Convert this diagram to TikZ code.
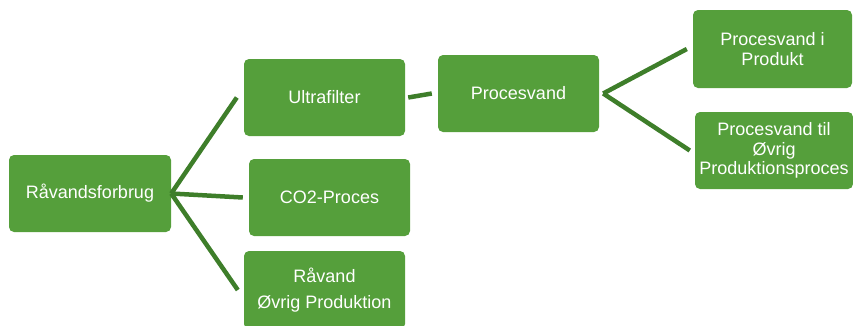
\documentclass[tikz,border=0pt]{standalone}
\usepackage{fontspec}
\setmainfont{Liberation Sans}
\definecolor{boxgreen}{RGB}{85,159,59}
\definecolor{linegreen}{RGB}{62,126,42}
\begin{document}
\begin{tikzpicture}[x=1pt,y=-1pt,
  box/.style={rectangle,rounded corners=5pt,fill=boxgreen,text=white,
    minimum width=161pt,minimum height=77pt,inner sep=0pt,align=center,
    font=\fontsize{18}{19.5}\selectfont},
  conn/.style={draw=linegreen,line width=4.5pt}]
\useasboundingbox (0,0) rectangle (853,325);
\node[box,minimum width=162pt] (raa) at (90,193.5) {Råvandsforbrug};
\node[box] (ultra) at (324.5,97.5) {Ultrafilter};
\node[box] (co2) at (329.5,197.5) {CO2-Proces};
\node[box,minimum height=78pt] (rvo) at (324.5,290) {Råvand\\[7pt]Øvrig Produktion};
\node[box] (proc) at (518.5,93.5) {Procesvand};
\node[box,minimum width=159pt,minimum height=78pt] (pip) at (772.5,49) {Procesvand i\\Produkt};
\node[box,minimum width=158pt] (ptil) at (774,150.5) {Procesvand til\\Øvrig\\Produktionsproces};
\draw[conn] (raa.east) -- ([xshift=-7pt]ultra.west);
\draw[conn] (raa.east) -- ([xshift=-6pt]co2.west);
\draw[conn] (raa.east) -- ([xshift=-6pt]rvo.west);
\draw[conn] ([xshift=3pt]ultra.east) -- ([xshift=-6pt]proc.west);
\draw[conn] ([xshift=4pt]proc.east) -- ([xshift=-6pt]pip.west);
\draw[conn] ([xshift=4pt]proc.east) -- ([xshift=-5pt]ptil.west);
\end{tikzpicture}
\end{document}
